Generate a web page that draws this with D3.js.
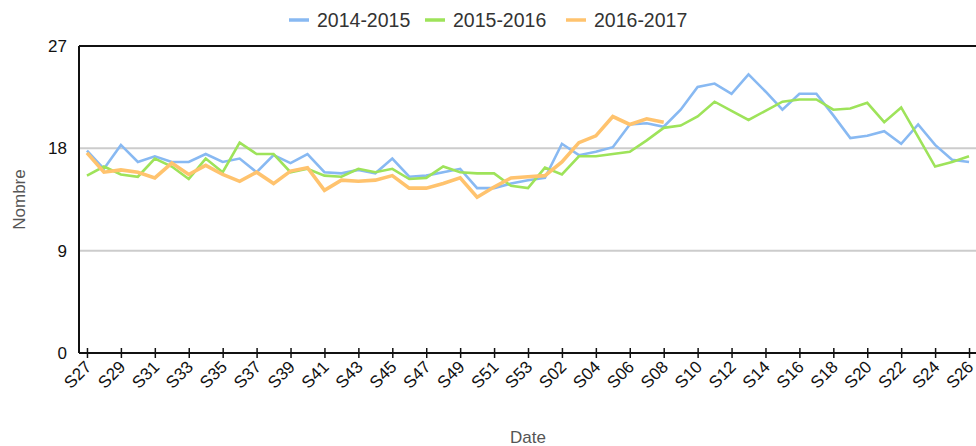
<!DOCTYPE html>
<html>
<head>
<meta charset="utf-8">
<script src="https://cdn.jsdelivr.net/npm/d3@7/dist/d3.min.js"></script>
<style>
  html, body { margin: 0; padding: 0; background: #fff; }
  svg { display: block; font-family: "Liberation Sans", Arial, sans-serif; }
</style>
</head>
<body>
<svg id="chart" width="976" height="446"></svg>
<script>
// Weeks of the season: S27 … S53, then S01 … S26
const weeks = [
  "S27","S28","S29","S30","S31","S32","S33","S34","S35","S36","S37","S38","S39","S40",
  "S41","S42","S43","S44","S45","S46","S47","S48","S49","S50","S51","S52","S53",
  "S01","S02","S03","S04","S05","S06","S07","S08","S09","S10","S11","S12","S13",
  "S14","S15","S16","S17","S18","S19","S20","S21","S22","S23","S24","S25","S26"
];

const seriesNames = ["2014-2015", "2015-2016", "2016-2017"];

const values2014 = [
  17.8, 16.2, 18.3, 16.8, 17.3, 16.8, 16.8, 17.5, 16.8, 17.1, 15.9, 17.4, 16.7, 17.5,
  15.9, 15.8, 16.1, 15.8, 17.1, 15.5, 15.6, 15.9, 16.2, 14.5, 14.5, 14.9, 15.2,
  15.4, 18.4, 17.4, 17.7, 18.1, 20.1, 20.2, 19.9, 21.4, 23.4, 23.7, 22.8, 24.5,
  23.0, 21.4, 22.8, 22.8, 20.9, 18.9, 19.1, 19.5, 18.4, 20.1, 18.3, 17.0, 16.8
];

const values2015 = [
  15.6, 16.4, 15.7, 15.5, 17.1, 16.4, 15.3, 17.1, 15.9, 18.5, 17.5, 17.5, 15.9, 16.2,
  15.6, 15.5, 16.2, 15.9, 16.2, 15.3, 15.4, 16.4, 15.9, 15.8, 15.8, 14.7, 14.5,
  16.3, 15.7, 17.3, 17.3, 17.5, 17.7, 18.7, 19.8, 20.0, 20.8, 22.1, 21.3, 20.5,
  21.3, 22.1, 22.3, 22.3, 21.4, 21.5, 22.0, 20.3, 21.6, 19.0, 16.4, 16.8, 17.3
];

const values2016 = [
  17.6, 15.9, 16.1, 15.9, 15.4, 16.7, 15.7, 16.5, 15.7, 15.1, 15.9, 14.9, 16.0, 16.3,
  14.3, 15.2, 15.1, 15.2, 15.6, 14.5, 14.5, 14.9, 15.4, 13.7, 14.6, 15.4, 15.5,
  15.6, 16.8, 18.5, 19.1, 20.8, 20.1, 20.6, 20.3
];

const yTicks = [0, 9, 18, 27];
const xLabels = weeks.filter((d, i) => i % 2 === 0);

const colors = ["#88b9f2", "#9ee35a", "#ffc36e"];
const widths = [2.6, 2.6, 3.6];

const svg = d3.select("#chart");
const frame = { left: 79, right: 977, top: 46, bottom: 353 };

const x = d3.scalePoint().domain(weeks).range([frame.left, frame.right]).padding(0.47);
const y = d3.scaleLinear().domain([0, 27]).range([frame.bottom, frame.top]);

// Horizontal gridlines
svg.append("g")
  .selectAll("line")
  .data(yTicks.filter(t => t > 0 && t < 27))
  .join("line")
  .attr("x1", frame.left).attr("x2", frame.right)
  .attr("y1", d => y(d)).attr("y2", d => y(d))
  .attr("stroke", "#cccccc").attr("stroke-width", 2);

// Top border
svg.append("line")
  .attr("x1", frame.left).attr("x2", frame.right)
  .attr("y1", y(27)).attr("y2", y(27))
  .attr("stroke", "#111").attr("stroke-width", 2);

// Y axis
const yAxis = svg.append("g")
  .attr("transform", `translate(${frame.left},0)`)
  .call(d3.axisLeft(y).tickValues(yTicks).tickSize(0).tickPadding(12));
yAxis.select(".domain").attr("stroke", "#111").attr("stroke-width", 2)
  .attr("d", `M0,${frame.top}V${frame.bottom}`);
yAxis.selectAll("text").attr("font-size", 17).attr("fill", "#111")
  .attr("font-family", "'Liberation Sans', Arial, sans-serif");

// X axis
const xAxis = svg.append("g")
  .attr("transform", `translate(0,${frame.bottom})`)
  .call(d3.axisBottom(x).tickValues(xLabels).tickSizeInner(6).tickSizeOuter(0).tickPadding(6));
xAxis.select(".domain").attr("stroke", "#111").attr("stroke-width", 2)
  .attr("d", `M${frame.left},0H${frame.right}`);
xAxis.selectAll(".tick line").attr("stroke", "#111").attr("stroke-width", 1.5)
  .attr("y1", -5).attr("y2", 5);
xAxis.selectAll("text")
  .attr("font-size", 17).attr("fill", "#111")
  .attr("font-family", "'Liberation Sans', Arial, sans-serif")
  .attr("text-anchor", "end")
  .attr("dy", null).attr("y", 0)
  .attr("transform", "translate(5,15) rotate(-45)");

// Series lines
const allSeries = [values2014, values2015, values2016];
const line = d3.line()
  .x((d, i) => x(weeks[i]))
  .y(d => y(d));

svg.append("g")
  .selectAll("path")
  .data(allSeries)
  .join("path")
  .attr("fill", "none")
  .attr("stroke", (d, i) => colors[i])
  .attr("stroke-width", (d, i) => widths[i])
  .attr("stroke-linejoin", "miter")
  .attr("d", d => line(d));

// Axis titles
svg.append("text")
  .attr("x", (frame.left + frame.right) / 2).attr("y", 443)
  .attr("text-anchor", "middle")
  .attr("font-size", 17).attr("fill", "#555")
  .text("Date");

svg.append("text")
  .attr("transform", `translate(25,${(frame.top + frame.bottom) / 2}) rotate(-90)`)
  .attr("text-anchor", "middle")
  .attr("font-size", 17).attr("fill", "#555")
  .text("Nombre");

// Legend
const legendX = [289, 425, 566];
const legend = svg.append("g");
seriesNames.forEach((name, i) => {
  legend.append("line")
    .attr("x1", legendX[i]).attr("x2", legendX[i] + 20)
    .attr("y1", 20).attr("y2", 20)
    .attr("stroke", colors[i]).attr("stroke-width", 3.5);
  legend.append("text")
    .attr("x", legendX[i] + 28).attr("y", 27)
    .attr("font-size", 19.5).attr("fill", "#333")
    .text(name);
});
</script>
</body>
</html>
